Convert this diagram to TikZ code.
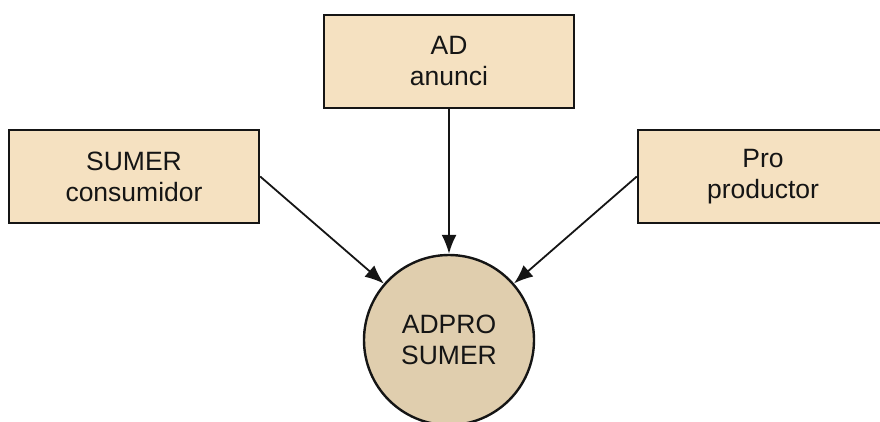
\documentclass[tikz,border=0pt]{standalone}
\usepackage{fontspec}
\setmainfont{Liberation Sans}
\usetikzlibrary{arrows.meta}
\definecolor{boxfill}{HTML}{F5E1C1}
\definecolor{hubfill}{HTML}{E0CEAE}
\definecolor{ink}{HTML}{151515}
\tikzset{
  label text/.style={font=\fontsize{26.5}{31}\selectfont, text=ink, align=center},
  rolebox/.style={label text, draw=ink, fill=boxfill, line width=2.4pt,
    rectangle, minimum width=250pt, minimum height=93pt, inner sep=0pt},
  hub/.style={label text, draw=ink, fill=hubfill, line width=2.4pt,
    circle, minimum size=170pt, inner sep=0pt},
  link/.style={draw=ink, line width=1.8pt, -{Latex[length=19pt,width=15pt]}}
}
\begin{document}
\begin{tikzpicture}[x=1pt,y=-1pt]
  \useasboundingbox (0,0) rectangle (880,421);
  \clip (0,0) rectangle (880,421);
  % three role boxes around the central hub
  \node[rolebox] (ad) at (449,61.5) {AD\\anunci};
  \node[rolebox] (sumer) at (134,176.5) {SUMER\\consumidor};
  \node[rolebox] (pro) at (763,176.5) {Pro\\productor};
  \node[hub] (hubnode) at (449,340) {ADPRO\\SUMER};
  % links into the hub
  \draw[link] (ad.south) -- (hubnode);
  \draw[link] (sumer.east) -- (hubnode);
  \draw[link] (pro.west) -- (hubnode);
\end{tikzpicture}
\end{document}
